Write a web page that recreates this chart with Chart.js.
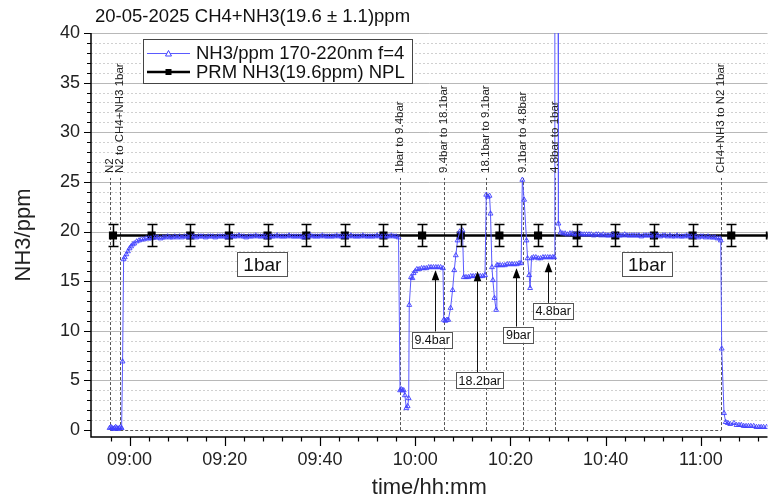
<!DOCTYPE html>
<html>
<head>
<meta charset="utf-8">
<script src="https://cdn.jsdelivr.net/npm/chart.js@4.4.1/dist/chart.umd.min.js"></script>
<style>
html, body { margin: 0; padding: 0; background: #fff; }
</style>
</head>
<body>
<canvas id="grafico" width="774" height="501"></canvas>
<script>
const fuente = '"Liberation Sans", Arial, sans-serif'

// Ejes
const xTickLabels = ["09:00", "09:20", "09:40", "10:00", "10:20", "10:40", "11:00"]
const yTickLabels = [0, 5, 10, 15, 20, 25, 30, 35, 40]

// Serie NH3/ppm 170-220nm f=4
const nh3Times = [
  // N2 y cambio a CH4+NH3 1bar
  "08:55:48","08:56:05","08:56:20","08:56:35","08:56:50","08:57:05","08:57:20","08:57:35","08:57:50","08:58:05",
  "08:58:20","08:58:32","08:58:45","08:59:00","08:59:20","08:59:40","09:00:00","09:00:20","09:00:40","09:01:00",
  "09:01:30","09:02:00","09:02:30","09:03:00","09:03:30","09:04:00","09:04:30","09:05:00",
  // 1bar
  "09:05:30","09:06:00","09:06:30","09:07:00","09:07:30","09:08:00","09:08:30","09:09:00","09:09:30","09:10:00",
  "09:10:30","09:11:00","09:11:30","09:12:00","09:12:30","09:13:00","09:13:30","09:14:00","09:14:30","09:15:00",
  "09:15:30","09:16:00","09:16:30","09:17:00","09:17:30","09:18:00","09:18:30","09:19:00","09:19:30","09:20:00",
  "09:20:30","09:21:00","09:21:30","09:22:00","09:22:30","09:23:00","09:23:30","09:24:00","09:24:30","09:25:00",
  "09:25:30","09:26:00","09:26:30","09:27:00","09:27:30","09:28:00","09:28:30","09:29:00","09:29:30","09:30:00",
  "09:30:30","09:31:00","09:31:30","09:32:00","09:32:30","09:33:00","09:33:30","09:34:00","09:34:30","09:35:00",
  "09:35:30","09:36:00","09:36:30","09:37:00","09:37:30","09:38:00","09:38:30","09:39:00","09:39:30","09:40:00",
  "09:40:30","09:41:00","09:41:30","09:42:00","09:42:30","09:43:00","09:43:30","09:44:00","09:44:30","09:45:00",
  "09:45:30","09:46:00","09:46:30","09:47:00","09:47:30","09:48:00","09:48:30","09:49:00","09:49:30","09:50:00",
  "09:50:30","09:51:00","09:51:30","09:52:00","09:52:30","09:53:00","09:53:30","09:54:00","09:54:30","09:55:00",
  "09:55:30","09:56:00","09:56:30",
  // cambios de presion
  "09:56:49","09:57:05","09:57:20","09:57:35","09:57:50","09:58:08","09:58:25","09:58:38","09:58:45","09:59:07",
  "09:59:25","09:59:40","10:00:00","10:00:21","10:00:50","10:01:20","10:01:50","10:02:20","10:02:50","10:03:20",
  "10:03:50","10:04:20","10:04:50","10:05:20","10:05:50","10:06:00","10:06:20","10:06:40","10:06:57","10:07:26",
  "10:07:51","10:08:12","10:08:32","10:08:53","10:09:22","10:09:56","10:10:12","10:10:40","10:11:10","10:11:40",
  "10:12:10","10:12:40","10:13:10","10:13:40","10:14:10","10:14:40","10:14:55","10:15:15","10:15:37","10:15:49",
  "10:16:07","10:16:19","10:16:39","10:17:00","10:17:09","10:17:22","10:17:50","10:18:20","10:18:50","10:19:20",
  "10:19:50","10:20:20","10:20:50","10:21:20","10:21:50","10:22:15","10:22:30","10:22:53","10:23:23","10:23:36",
  "10:23:56","10:24:08","10:24:26","10:24:50","10:25:20","10:25:50","10:26:20","10:26:50","10:27:20","10:27:50",
  "10:28:20","10:28:50","10:29:10","10:29:20","10:30:02","10:30:05","10:30:32",
  // vuelta a 1bar
  "10:31:00","10:31:30","10:32:00","10:32:30","10:33:00","10:33:30","10:34:00","10:34:30","10:35:00","10:35:30",
  "10:36:00","10:36:30","10:37:00","10:37:30","10:38:00","10:38:30","10:39:00","10:39:30","10:40:00","10:40:30",
  "10:41:00","10:41:30","10:42:00","10:42:30","10:43:00","10:43:30","10:44:00","10:44:30","10:45:00","10:45:30",
  "10:46:00","10:46:30","10:47:00","10:47:30","10:48:00","10:48:30","10:49:00","10:49:30","10:50:00","10:50:30",
  "10:51:00","10:51:30","10:52:00","10:52:30","10:53:00","10:53:30","10:54:00","10:54:30","10:55:00","10:55:30",
  "10:56:00","10:56:30","10:57:00","10:57:30","10:58:00","10:58:30","10:59:00","10:59:30","11:00:00","11:00:30",
  "11:01:00","11:01:30","11:02:00","11:02:30","11:03:00","11:03:30","11:04:00",
  // CH4+NH3 a N2
  "11:04:11","11:04:23","11:04:52","11:05:13","11:05:40","11:06:10","11:06:57","11:07:30","11:08:00","11:08:30",
  "11:09:00","11:09:30","11:10:00","11:10:30","11:11:06","11:11:40","11:12:10","11:12:40","11:13:10","11:13:48"
]
const nh3Values = [
  0.2,0.3,0.2,0.1,0.2,0.3,0.2,0.1,0.2,0.3,
  0.2,6.9,17.2,17.4,17.7,18.0,18.3,18.5,18.7,18.8,
  19.0,19.1,19.2,19.2,19.3,19.3,19.3,19.4,
  19.4,19.4,19.3,19.4,19.4,19.5,19.4,19.4,19.5,19.4,
  19.5,19.4,19.5,19.5,19.4,19.5,19.5,19.4,19.5,19.5,
  19.5,19.4,19.5,19.5,19.5,19.4,19.5,19.5,19.5,19.5,
  19.4,19.5,19.5,19.5,19.5,19.6,19.5,19.5,19.4,19.5,
  19.5,19.5,19.6,19.5,19.5,19.5,19.5,19.4,19.5,19.5,
  19.5,19.6,19.5,19.5,19.5,19.5,19.6,19.5,19.5,19.5,
  19.5,19.5,19.4,19.5,19.5,19.6,19.5,19.5,19.5,19.5,
  19.6,19.5,19.5,19.5,19.5,19.5,19.6,19.5,19.5,19.5,
  19.5,19.5,19.6,19.5,19.5,19.5,19.5,19.6,19.5,19.5,
  19.5,19.5,19.5,19.6,19.5,19.5,19.5,19.5,19.5,19.6,
  19.5,19.5,19.4,
  4.0,4.1,4.0,4.0,3.5,2.2,2.4,3.2,12.6,15.4,
  15.3,15.8,16.0,16.2,16.2,16.3,16.3,16.3,16.4,16.4,
  16.4,16.4,16.4,16.4,16.3,11.1,11.0,11.1,11.1,12.3,
  14.1,16.1,17.6,19.1,20.0,20.1,15.4,15.4,15.4,15.5,
  15.5,15.5,15.5,15.5,15.5,15.6,23.7,23.5,23.6,21.8,
  16.4,15.1,13.3,12.1,16.6,16.6,16.6,16.6,16.6,16.7,
  16.7,16.7,16.7,16.7,16.8,16.8,25.2,23.2,19.1,17.3,
  15.6,14.3,17.3,17.4,17.4,17.3,17.3,17.4,17.4,17.4,
  17.4,17.4,17.4,44.0,45.0,20.8,19.9,
  19.8,19.8,19.7,19.8,19.8,19.7,19.7,19.8,19.7,19.7,
  19.7,19.7,19.7,19.6,19.7,19.7,19.6,19.7,19.6,19.6,
  19.6,19.7,19.6,19.6,19.6,19.6,19.7,19.6,19.6,19.6,
  19.6,19.6,19.6,19.5,19.6,19.6,19.6,19.6,19.5,19.6,
  19.6,19.5,19.6,19.6,19.5,19.6,19.5,19.5,19.6,19.5,
  19.5,19.5,19.6,19.5,19.5,19.5,19.5,19.4,19.5,19.5,
  19.4,19.5,19.4,19.4,19.4,19.3,19.3,
  19.1,8.2,1.7,0.8,0.7,0.6,0.7,0.5,0.5,0.5,
  0.4,0.4,0.4,0.4,0.4,0.3,0.3,0.3,0.3,0.3
]

// Serie PRM NH3(19.6ppm) NPL con barras de error
const prmTimes = ["08:56:31","09:04:38","09:12:45","09:20:52","09:28:59","09:37:07","09:45:13","09:53:20","10:01:27",
  "10:09:34","10:17:41","10:25:48","10:33:55","10:42:02","10:50:09","10:58:16","11:06:23","11:14:30"]
const prmValues = [19.6,19.6,19.6,19.6,19.6,19.6,19.6,19.6,19.6,19.6,19.6,19.6,19.6,19.6,19.6,19.6,19.6,19.6]
const prmError = 1.1

// Anotaciones
const eventTimes = ["08:55:56","08:57:59","09:56:49","10:05:58","10:14:55","10:22:37","10:29:23","11:04:18"]
const eventLabels = ["N2","N2 to CH4+NH3 1bar","1bar to 9.4bar","9.4bar to 18.1bar","18.1bar to 9.1bar",
  "9.1bar to 4.8bar","4.8bar to 1bar","CH4+NH3 to N2 1bar"]
const presionLabels = ["1bar", "1bar"]
const presionTimes = ["09:27:54", "10:48:42"]
const presionValues = [16.7, 16.7]
const flechaLabels = ["9.4bar", "18.2bar", "9bar", "4.8bar"]
const flechaTimes = ["10:04:10", "10:13:03", "10:21:10", "10:27:53"]
const flechaTips = [16.1, 16.0, 16.3, 16.9]
const cajaTimes = ["10:03:33", "10:13:34", "10:21:41", "10:28:58"]
const cajaValues = [9.1, 5.0, 9.6, 12.0]

const toMin = (s) => {
  const p = s.split(':').map(Number)
  return p[0] * 60 + p[1] + (p[2] || 0) / 60
}

const dibujaCaja = (ctx, texto, cx, cy, size, padX, h) => {
  ctx.font = size + 'px ' + fuente
  const w = ctx.measureText(texto).width + padX * 2
  ctx.fillStyle = '#fff'
  ctx.strokeStyle = '#555'
  ctx.lineWidth = 1
  ctx.fillRect(cx - w / 2, cy - h / 2, w, h)
  ctx.strokeRect(Math.round(cx - w / 2) + 0.5, Math.round(cy - h / 2) + 0.5, Math.round(w), Math.round(h))
  ctx.fillStyle = '#111'
  ctx.textAlign = 'center'
  ctx.textBaseline = 'middle'
  ctx.fillText(texto, cx, cy + 1)
}

// Rejilla y lineas punteadas de los cambios (debajo de los datos)
const fondo = {
  id: 'fondo',
  beforeDatasetsDraw(chart) {
    const { ctx, chartArea: a, scales: { x, y } } = chart
    ctx.save()
    ctx.lineWidth = 1
    ctx.strokeStyle = '#d0d0d0'
    ctx.setLineDash([2, 2])
    for (let v = 1; v < 40; v++) {
      if (v % 5 === 0) continue
      const py = Math.round(y.getPixelForValue(v)) + 0.5
      ctx.beginPath(); ctx.moveTo(a.left, py); ctx.lineTo(a.right, py); ctx.stroke()
    }
    ctx.setLineDash([])
    ctx.strokeStyle = '#b8b8b8'
    yTickLabels.forEach(v => {
      if (v === 0) return
      const py = Math.round(y.getPixelForValue(v)) + 0.5
      ctx.beginPath(); ctx.moveTo(a.left, py); ctx.lineTo(a.right, py); ctx.stroke()
    })
    // lineas de eventos
    ctx.strokeStyle = '#555'
    ctx.setLineDash([3, 2])
    const y0 = y.getPixelForValue(0)
    eventTimes.forEach(t => {
      const px = Math.round(x.getPixelForValue(toMin(t))) + 0.5
      ctx.beginPath(); ctx.moveTo(px, y0); ctx.lineTo(px, y.getPixelForValue(25.4)); ctx.stroke()
    })
    ctx.beginPath()
    ctx.moveTo(x.getPixelForValue(toMin(eventTimes[0])), Math.round(y0) + 0.5)
    ctx.lineTo(x.getPixelForValue(toMin(eventTimes[eventTimes.length - 1])), Math.round(y0) + 0.5)
    ctx.stroke()
    ctx.restore()
  }
}

const encima = {
  id: 'encima',
  afterDatasetsDraw(chart) {
    const { ctx, chartArea: a, scales: { x, y } } = chart
    ctx.save()
    // barras de error
    ctx.strokeStyle = '#000'
    ctx.lineWidth = 1.5
    prmTimes.forEach((t, i) => {
      const v = toMin(t)
      if (v > x.max) return
      const px = Math.round(x.getPixelForValue(v)) + 0.5
      const yt = y.getPixelForValue(prmValues[i] + prmError)
      const yb = y.getPixelForValue(prmValues[i] - prmError)
      ctx.beginPath()
      ctx.moveTo(px, yt); ctx.lineTo(px, yb)
      ctx.moveTo(px - 5, yt); ctx.lineTo(px + 5, yt)
      ctx.moveTo(px - 5, yb); ctx.lineTo(px + 5, yb)
      ctx.stroke()
    })
    // textos de eventos
    ctx.fillStyle = '#222'
    ctx.font = '11.5px ' + fuente
    ctx.textAlign = 'left'
    ctx.textBaseline = 'middle'
    eventTimes.forEach((t, i) => {
      ctx.save()
      ctx.translate(x.getPixelForValue(toMin(t)), y.getPixelForValue(25.9))
      ctx.rotate(-Math.PI / 2)
      ctx.fillText(eventLabels[i], 0, 0)
      ctx.restore()
    })
    // cajas 1bar
    presionLabels.forEach((txt, i) => {
      dibujaCaja(ctx, txt, x.getPixelForValue(toMin(presionTimes[i])), y.getPixelForValue(presionValues[i]), 19, 6, 24)
    })
    // flechas con cajas
    flechaLabels.forEach((txt, i) => {
      const px = Math.round(x.getPixelForValue(toMin(flechaTimes[i]))) + 0.5
      const tip = y.getPixelForValue(flechaTips[i])
      const cy = y.getPixelForValue(cajaValues[i])
      ctx.strokeStyle = '#111'
      ctx.lineWidth = 1
      ctx.beginPath(); ctx.moveTo(px, cy - 8); ctx.lineTo(px, tip + 8); ctx.stroke()
      ctx.fillStyle = '#000'
      ctx.beginPath()
      ctx.moveTo(px, tip); ctx.lineTo(px - 3.8, tip + 10); ctx.lineTo(px + 3.8, tip + 10)
      ctx.closePath(); ctx.fill()
      dibujaCaja(ctx, txt, x.getPixelForValue(toMin(cajaTimes[i])), cy, 12.5, 2.5, 16)
    })
    ctx.restore()
  },
  afterDraw(chart) {
    const { ctx, chartArea: a, scales: { x, y } } = chart
    ctx.save()
    // ejes y marcas
    ctx.strokeStyle = '#000'
    ctx.lineWidth = 1.5
    ctx.beginPath()
    ctx.moveTo(a.left, a.top); ctx.lineTo(a.left, a.bottom); ctx.lineTo(a.right, a.bottom)
    ctx.stroke()
    ctx.lineWidth = 1.2
    ctx.beginPath()
    for (let v = 0; v <= 40; v++) {
      const py = Math.round(y.getPixelForValue(v)) + 0.5
      const len = v % 5 === 0 ? 7 : 4
      ctx.moveTo(a.left, py); ctx.lineTo(a.left - len, py)
    }
    const mayores = xTickLabels.map(toMin)
    for (let m = toMin("08:56"); m <= x.max; m += 4) {
      const px = Math.round(x.getPixelForValue(m)) + 0.5
      const len = mayores.includes(m) ? 9 : 4.5
      ctx.moveTo(px, a.bottom); ctx.lineTo(px, a.bottom + len)
    }
    ctx.stroke()
    // titulo
    ctx.fillStyle = '#111'
    ctx.font = '18.5px ' + fuente
    ctx.textAlign = 'left'
    ctx.textBaseline = 'middle'
    ctx.fillText('20-05-2025 CH4+NH3(19.6 \u00b1 1.1)ppm', 95, 17)
    // leyenda
    ctx.fillStyle = '#fff'
    ctx.strokeStyle = '#444'
    ctx.lineWidth = 1
    ctx.fillRect(143.5, 39.5, 269, 44)
    ctx.strokeRect(143.5, 39.5, 269, 44)
    ctx.strokeStyle = '#5a5aff'
    ctx.beginPath(); ctx.moveTo(147, 53.5); ctx.lineTo(190, 53.5); ctx.stroke()
    ctx.fillStyle = '#fff'
    ctx.strokeStyle = '#4040ff'
    ctx.beginPath(); ctx.moveTo(168.5, 50.5); ctx.lineTo(171.5, 56); ctx.lineTo(165.5, 56); ctx.closePath()
    ctx.fill(); ctx.stroke()
    ctx.strokeStyle = '#000'
    ctx.lineWidth = 2.5
    ctx.beginPath(); ctx.moveTo(147, 72); ctx.lineTo(190, 72); ctx.stroke()
    ctx.fillStyle = '#000'
    ctx.fillRect(165.5, 69, 6, 6)
    ctx.fillStyle = '#111'
    ctx.font = '18.5px ' + fuente
    ctx.fillText('NH3/ppm 170-220nm f=4', 196, 54)
    ctx.fillText('PRM NH3(19.6ppm) NPL', 196, 73)
    ctx.restore()
  }
}

const grafico = new Chart(document.getElementById('grafico'), {
  type: 'line',
  data: {
    datasets: [{
      label: 'NH3/ppm 170-220nm f=4',
      data: nh3Times.map((t, i) => ({ x: toMin(t), y: nh3Values[i] })),
      borderColor: '#5a5aff',
      borderWidth: 1,
      pointStyle: 'triangle',
      pointRadius: 2.8,
      pointBorderWidth: 0.9,
      pointBorderColor: '#4040ff',
      pointBackgroundColor: 'rgba(255,255,255,0)',
      tension: 0
    }, {
      label: 'PRM NH3(19.6ppm) NPL',
      data: prmTimes.map((t, i) => ({ x: toMin(t), y: prmValues[i] })),
      borderColor: '#000',
      borderWidth: 2.5,
      pointStyle: 'rect',
      pointRadius: 4,
      pointBackgroundColor: '#000',
      pointBorderColor: '#000',
      tension: 0
    }]
  },
  options: {
    responsive: false,
    animation: false,
    layout: { padding: { top: 33, left: 0, right: 0, bottom: 0 } },
    plugins: { legend: { display: false }, tooltip: { enabled: false } },
    scales: {
      x: {
        type: 'linear',
        min: 531.9,
        max: 674.0,
        afterFit: (s) => { s.height = 64 },
        afterBuildTicks: (s) => { s.ticks = xTickLabels.map(t => ({ value: toMin(t) })) },
        grid: { display: false, drawTicks: false },
        border: { display: false },
        ticks: {
          callback: (v, i) => xTickLabels[i],
          autoSkip: false, maxRotation: 0,
          padding: 12, color: '#222', font: { size: 18, family: fuente }
        },
        title: {
          display: true, text: 'time/hh:mm', color: '#222',
          font: { size: 22, family: fuente }, padding: { top: -2, bottom: 0 }
        }
      },
      y: {
        min: -0.7,
        max: 40,
        afterFit: (s) => { s.width = 91 },
        afterBuildTicks: (s) => { s.ticks = yTickLabels.map(v => ({ value: v })) },
        grid: { display: false, drawTicks: false },
        border: { display: false },
        ticks: { padding: 11, color: '#222', font: { size: 18, family: fuente } },
        title: {
          display: true, text: 'NH3/ppm', color: '#222',
          font: { size: 22, family: fuente }, padding: { top: 11, bottom: 0 }
        }
      }
    }
  },
  plugins: [fondo, encima]
})
</script>
</body>
</html>
